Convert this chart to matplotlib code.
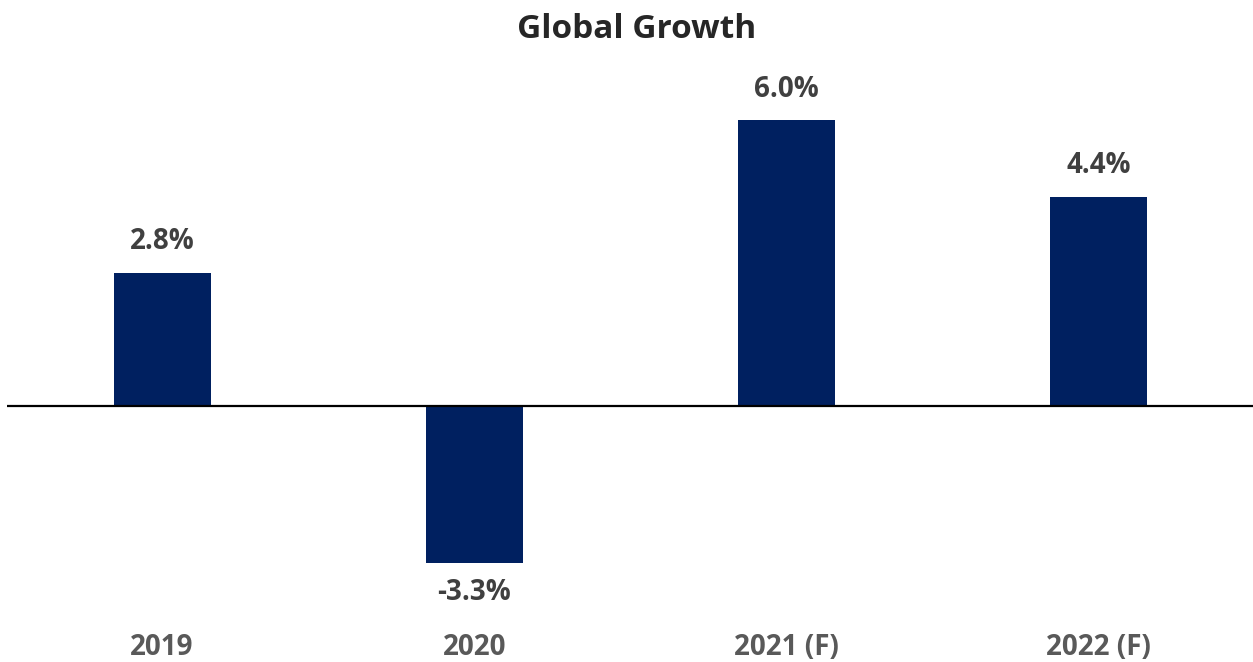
import matplotlib
matplotlib.use("Agg")
import matplotlib.pyplot as plt

years = ["2019", "2020", "2021 (F)", "2022 (F)"]
growth = [2.8, -3.3, 6.0, 4.4]

plt.rcParams["font.family"] = ["Open Sans", "DejaVu Sans"]

fig = plt.figure(figsize=(12.53, 6.62), dpi=100)
ax = fig.add_axes([7 / 1253, 37 / 662, 1 - 7 / 1253, 535 / 662])

x = range(len(years))
bars = ax.bar(x, growth, width=0.31, color="#002060", zorder=2)
ax.axhline(0, color="black", lw=1.6, zorder=3)

for xi, v in zip(x, growth):
    if v >= 0:
        ax.annotate(f"{v:.1f}%", (xi, v), xytext=(0, 12), textcoords="offset points",
                    ha="center", va="bottom", fontsize=20, fontweight="bold", color="#404040")
    else:
        ax.annotate(f"{v:.1f}%", (xi, v), xytext=(0, -11), textcoords="offset points",
                    ha="center", va="top", fontsize=20, fontweight="bold", color="#404040")

ax.set_xlim(-0.497, 3.494)
ax.set_ylim(-4.60, 6.64)
ax.set_xticks(list(x))
ax.set_xticklabels(years, fontsize=20, fontweight="bold", color="#595959")
ax.tick_params(axis="x", length=0, pad=6)
ax.set_yticks([])
for s in ax.spines.values():
    s.set_visible(False)

fig.text(637 / 1253, 1 - 29 / 662, "Global Growth", ha="center", va="center",
         fontsize=24, fontweight="bold", color="#262626")

fig.savefig("out.png", dpi=100)
